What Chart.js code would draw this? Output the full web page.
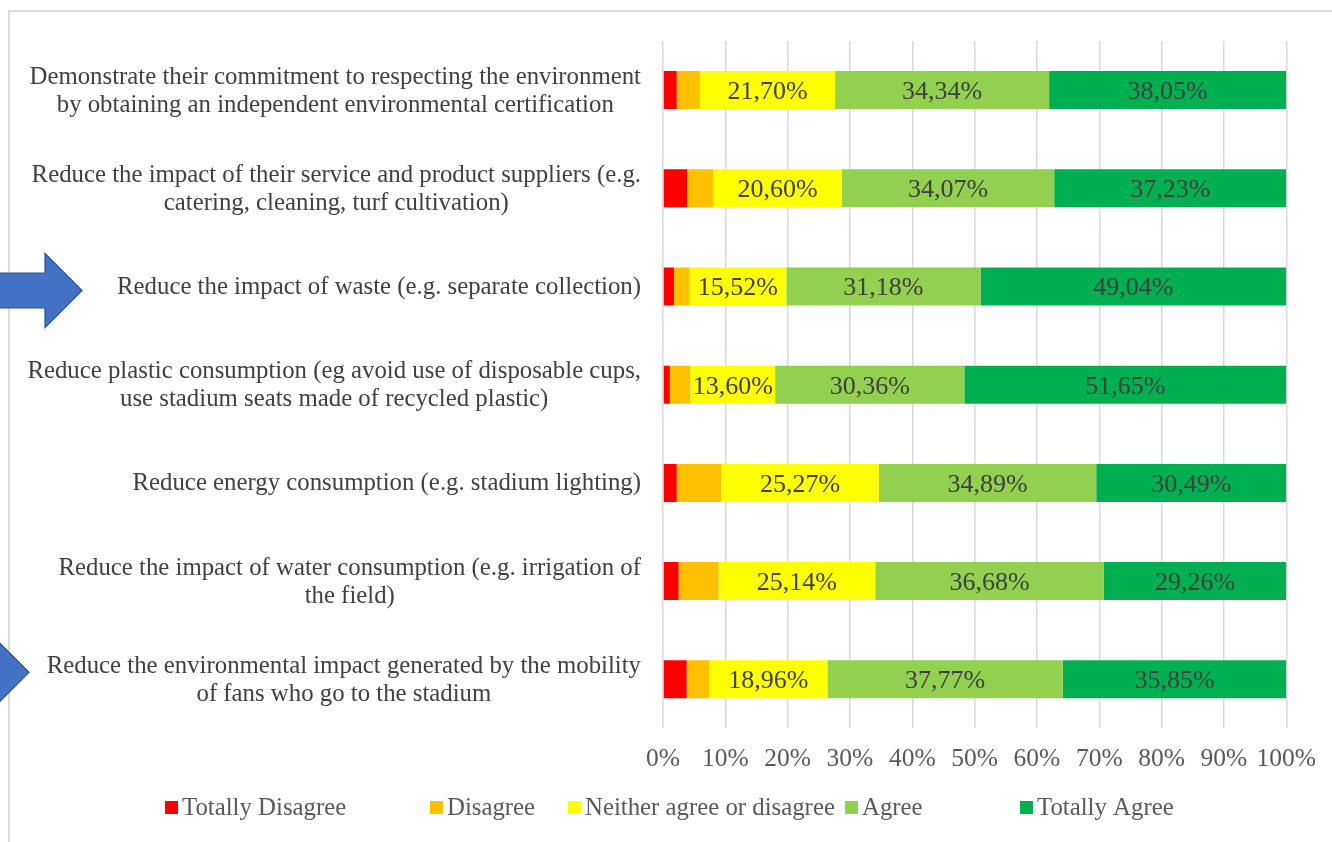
<!DOCTYPE html>
<html>
<head>
<meta charset="utf-8">
<script src="https://cdn.jsdelivr.net/npm/chart.js@4/dist/chart.umd.min.js"></script>
<style>
  body { margin: 0; background: #fff; }
  #chart { display: block; }
</style>
</head>
<body>
<canvas id="chart" width="1332" height="842"></canvas>
<script>
const questions = [
  ["Demonstrate their commitment to respecting the environment", "by obtaining an independent environmental certification"],
  ["Reduce the impact of their service and product suppliers (e.g.", "catering, cleaning, turf cultivation)"],
  ["Reduce the impact of waste (e.g. separate collection)"],
  ["Reduce plastic consumption (eg avoid use of disposable cups,", "use stadium seats made of recycled plastic)"],
  ["Reduce energy consumption (e.g. stadium lighting)"],
  ["Reduce the impact of water consumption (e.g. irrigation of", "the field)"],
  ["Reduce the environmental impact generated by the mobility", "of fans who go to the stadium"]
];

const totallyDisagree = [2.20, 3.85, 1.76, 1.10, 2.20, 2.50, 3.80];
const disagree = [3.71, 4.25, 2.50, 3.29, 7.15, 6.42, 3.62];
const neither = [21.70, 20.60, 15.52, 13.60, 25.27, 25.14, 18.96];
const agree = [34.34, 34.07, 31.18, 30.36, 34.89, 36.68, 37.77];
const totallyAgree = [38.05, 37.23, 49.04, 51.65, 30.49, 29.26, 35.85];

// rows marked with a blue arrow in the original figure
const arrowRows = [2, 6];

const serif = "'Liberation Serif', 'Times New Roman', serif";

// light grey frame round the figure
const framePlugin = {
  id: "frame",
  beforeDraw(chart) {
    const ctx = chart.ctx;
    ctx.save();
    ctx.strokeStyle = "#dcdcdc";
    ctx.lineWidth = 2;
    ctx.beginPath();
    ctx.moveTo(9, chart.height);
    ctx.lineTo(9, 11);
    ctx.lineTo(chart.width, 11);
    ctx.stroke();
    ctx.restore();
  }
};

// category labels: lines centred on each other, block right-aligned to the axis
const questionLabels = {
  id: "questionLabels",
  afterDraw(chart) {
    const ctx = chart.ctx;
    const y = chart.scales.y;
    const right = chart.chartArea.left - 22;
    const lineH = 28;
    ctx.save();
    ctx.font = "24.8px " + serif;
    ctx.fillStyle = "#404040";
    ctx.textAlign = "center";
    ctx.textBaseline = "middle";
    questions.forEach((lines, i) => {
      const w = Math.max(...lines.map(l => ctx.measureText(l).width));
      const cx = right - w / 2;
      const cy = y.getPixelForValue(i) + 1;
      lines.forEach((line, k) => {
        ctx.fillText(line, cx, cy + (k - (lines.length - 1) / 2) * lineH);
      });
    });
    ctx.restore();
  }
};

// value labels on the last three segments
const valueLabels = {
  id: "valueLabels",
  afterDatasetsDraw(chart) {
    const ctx = chart.ctx;
    ctx.save();
    ctx.font = "26px " + serif;
    ctx.fillStyle = "#404040";
    ctx.textAlign = "center";
    ctx.textBaseline = "middle";
    [2, 3, 4].forEach(d => {
      const meta = chart.getDatasetMeta(d);
      meta.data.forEach((bar, i) => {
        const v = chart.data.datasets[d].data[i];
        const txt = v.toFixed(2).replace(".", ",") + "%";
        ctx.fillText(txt, (bar.x + bar.base) / 2, bar.y + 2);
      });
    });
    ctx.restore();
  }
};

// legend laid out like the Excel original (uneven columns)
const legendX = [165, 430, 568, 845, 1020];
const bottomLegend = {
  id: "bottomLegend",
  afterDraw(chart) {
    const ctx = chart.ctx;
    const cy = 808;
    ctx.save();
    ctx.font = "24.8px " + serif;
    ctx.textBaseline = "middle";
    ctx.textAlign = "left";
    chart.data.datasets.forEach((ds, i) => {
      const x = legendX[i];
      ctx.fillStyle = ds.backgroundColor;
      ctx.fillRect(x, cy - 7, 13, 13);
      ctx.fillStyle = "#595959";
      ctx.fillText(ds.label, x + 17, cy);
    });
    ctx.restore();
  }
};

// blue arrows pointing at two of the rows
const arrows = {
  id: "arrows",
  afterDraw(chart) {
    const ctx = chart.ctx;
    const y = chart.scales.y;
    const shapes = [{ tip: 82, dy: 4 }, { tip: 29, dy: -7 }];
    ctx.save();
    ctx.fillStyle = "#4472C4";
    ctx.strokeStyle = "#2F528F";
    ctx.lineWidth = 1.2;
    arrowRows.forEach((row, n) => {
      const s = shapes[n];
      const cy = y.getPixelForValue(row) + s.dy;
      const base = s.tip - 37;
      ctx.beginPath();
      ctx.moveTo(-10, cy - 17.5);
      ctx.lineTo(base, cy - 17.5);
      ctx.lineTo(base, cy - 37);
      ctx.lineTo(s.tip, cy);
      ctx.lineTo(base, cy + 37);
      ctx.lineTo(base, cy + 17.5);
      ctx.lineTo(-10, cy + 17.5);
      ctx.closePath();
      ctx.fill();
      ctx.stroke();
    });
    ctx.restore();
  }
};

const ctx = document.getElementById("chart").getContext("2d");
new Chart(ctx, {
  type: "bar",
  data: {
    labels: questions,
    datasets: [
      { label: "Totally Disagree", data: totallyDisagree, backgroundColor: "#FF0000" },
      { label: "Disagree", data: disagree, backgroundColor: "#FFC000" },
      { label: "Neither agree or disagree", data: neither, backgroundColor: "#FFFF00" },
      { label: "Agree", data: agree, backgroundColor: "#92D050" },
      { label: "Totally Agree", data: totallyAgree, backgroundColor: "#00B050" }
    ]
  },
  options: {
    indexAxis: "y",
    responsive: false,
    animation: false,
    barPercentage: 0.387,
    categoryPercentage: 1,
    layout: {
      padding: { top: 41, right: 37, bottom: 51, left: 0 }
    },
    scales: {
      x: {
        stacked: true,
        min: 0,
        max: 100,
        border: { display: false },
        grid: { color: "#d9d9d9", lineWidth: 1.5, drawTicks: false },
        ticks: {
          stepSize: 10,
          padding: 16,
          autoSkip: false,
          maxRotation: 0,
          color: "#595959",
          font: { family: serif, size: 25.5 },
          callback: (v) => v + "%"
        }
      },
      y: {
        stacked: true,
        afterFit: (scale) => { scale.width = 663; },
        border: { display: false },
        grid: { display: false },
        ticks: { display: false }
      }
    },
    plugins: {
      legend: { display: false },
      tooltip: { enabled: false }
    }
  },
  plugins: [framePlugin, valueLabels, questionLabels, bottomLegend, arrows]
});
</script>
</body>
</html>
